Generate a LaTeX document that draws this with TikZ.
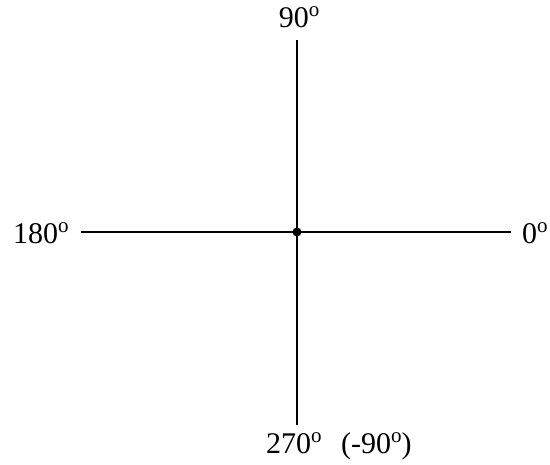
\documentclass[tikz,border=0pt]{standalone}
\usepackage{fontspec}
\setmainfont{Liberation Serif}
\newcommand{\degsup}{\raisebox{0.38em}{\fontsize{21}{21}\selectfont o}}
\begin{document}
\begin{tikzpicture}[x=1pt,y=-1pt,
  axis/.style={line width=1.7pt},
  lbl/.style={inner sep=0pt,font=\fontsize{30}{33}\selectfont},
  ctr/.style={circle,fill=black,inner sep=0pt,minimum size=9pt}]
\useasboundingbox (0,0) rectangle (550,465);
\coordinate (T) at (297,40);
\coordinate (B) at (297,425);
\coordinate (L) at (81,232);
\coordinate (R) at (511,232);
\draw[axis] (T) -- (B);
\draw[axis] (L) -- (R);
\node[ctr] (c) at (297,232) {};
\node[lbl,anchor=base] (n90) at (299,28) {90\degsup};
\node[lbl,anchor=base west] (n180) at (13,244) {180\degsup};
\node[lbl,anchor=base west] (n0) at (522,244) {0\degsup};
\node[lbl,anchor=base west] (n270) at (266,454) {270\degsup\hspace{0.65em}(-90\degsup)};
\end{tikzpicture}
\end{document}
